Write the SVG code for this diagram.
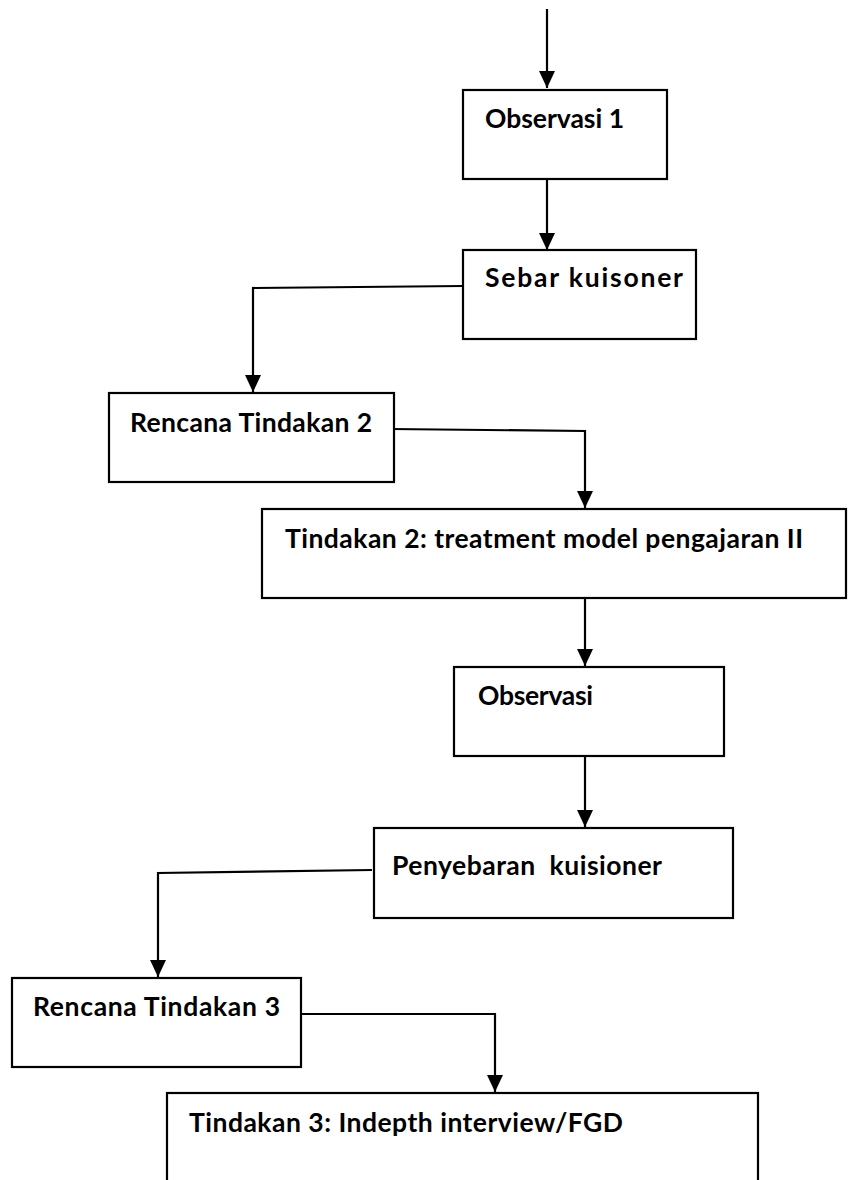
<svg xmlns="http://www.w3.org/2000/svg" width="854" height="1180" viewBox="0 0 854 1180">
<style>
.box{fill:#fff;stroke:#000;stroke-width:2.2}
.lbl{font-family:Lato,"Open Sans","Liberation Sans",sans-serif;font-weight:bold;font-size:26.5px;fill:#000}
.con{fill:none;stroke:#000;stroke-width:2.2}
</style>
<defs>
<marker id="arr" markerUnits="userSpaceOnUse" markerWidth="17" markerHeight="16" refX="17" refY="8" orient="auto">
<path d="M0,0 L17,8 L0,16 z" fill="#000"/>
</marker>
</defs>
<rect width="854" height="1180" fill="#fff"/>
<g id="connectors">
<path class="con" d="M547,9 V88" marker-end="url(#arr)"/>
<path class="con" d="M547,179 V250" marker-end="url(#arr)"/>
<path class="con" d="M463,286 L253,288 V392" marker-end="url(#arr)"/>
<path class="con" d="M390,429 L585,431 V508" marker-end="url(#arr)"/>
<path class="con" d="M585,598 V666" marker-end="url(#arr)"/>
<path class="con" d="M585,756 V827" marker-end="url(#arr)"/>
<path class="con" d="M372,870 L158,873 V977" marker-end="url(#arr)"/>
<path class="con" d="M297,1014 L495,1014 V1092" marker-end="url(#arr)"/>
</g>
<g id="n1"><rect class="box" x="463" y="90" width="204" height="89"/><text class="lbl" x="485" y="128" textLength="139">Observasi 1</text></g>
<g id="n2"><rect class="box" x="463" y="250" width="233" height="89"/><text class="lbl" x="485" y="287" textLength="198">Sebar kuisoner</text></g>
<g id="n3"><rect class="box" x="109" y="393" width="285" height="89"/><text class="lbl" x="130" y="432" textLength="242">Rencana Tindakan 2</text></g>
<g id="n4"><rect class="box" x="262" y="509" width="584" height="89"/><text class="lbl" x="285" y="548" textLength="518">Tindakan 2: treatment model pengajaran II</text></g>
<g id="n5"><rect class="box" x="454" y="667" width="270" height="89"/><text class="lbl" x="478" y="705" textLength="115">Observasi</text></g>
<g id="n6"><rect class="box" x="374" y="828" width="359" height="90"/><text class="lbl" x="392" y="875" textLength="270" xml:space="preserve">Penyebaran  kuisioner</text></g>
<g id="n7"><rect class="box" x="12" y="978" width="289" height="89"/><text class="lbl" x="33" y="1016" textLength="247">Rencana Tindakan 3</text></g>
<g id="n8"><rect class="box" x="167" y="1093" width="591" height="100"/><text class="lbl" x="189" y="1132" textLength="434">Tindakan 3: Indepth interview/FGD</text></g>
</svg>
